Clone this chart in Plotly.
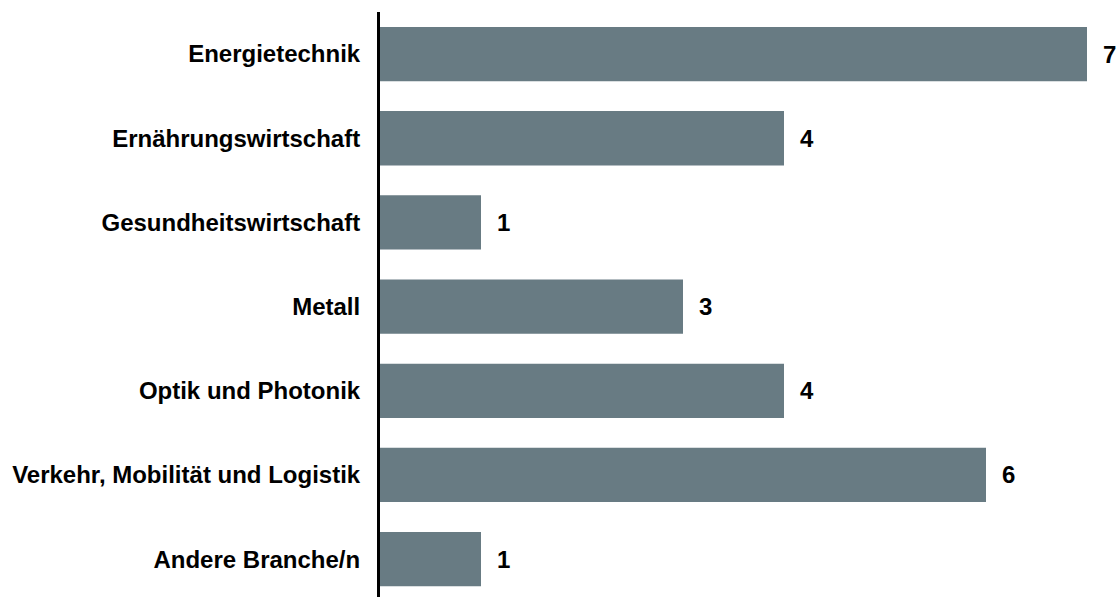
import plotly.graph_objects as go

categories = ["Energietechnik", "Ernährungswirtschaft", "Gesundheitswirtschaft", "Metall",
              "Optik und Photonik", "Verkehr, Mobilität und Logistik", "Andere Branche/n"]
values = [7, 4, 1, 3, 4, 6, 1]

FONT = "Liberation Sans, Arial"
fig = go.Figure(go.Bar(
    x=values, y=categories, orientation="h",
    marker=dict(color="#687B83", line=dict(width=0)),
    width=0.645,
    cliponaxis=False,
))

for v, c in zip(values, categories):
    fig.add_annotation(x=v, y=c, text=str(v), showarrow=False, xanchor="left", yanchor="middle",
                       xshift=14, font=dict(family=FONT, size=24, color="black", weight="bold"))

fig.update_layout(
    width=1119, height=597,
    margin=dict(l=380, r=0, t=12, b=0),
    plot_bgcolor="white", paper_bgcolor="white",
    showlegend=False,
    xaxis=dict(range=[0, 739/101], visible=False),
    yaxis=dict(range=[6.45, -0.5], showline=True, linecolor="black", linewidth=3,
               showgrid=False, zeroline=False, ticks="", ticklabelstandoff=12,
               tickfont=dict(family=FONT, size=24, color="black", weight="bold")),
)
fig.write_html("out.html")
